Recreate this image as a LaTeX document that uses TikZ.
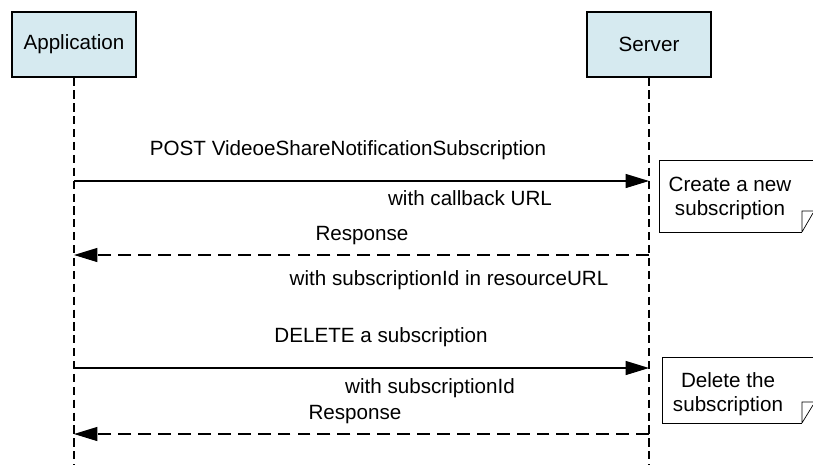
\documentclass[tikz,border=0pt]{standalone}
\usepackage{fontspec}
\setmainfont{Liberation Sans}
\usetikzlibrary{arrows.meta,positioning}
\definecolor{boxblue}{RGB}{214,234,240}

\tikzset{
	actor/.style={draw, fill=boxblue, line width=0.9pt, minimum width=3.72cm, minimum height=1.95cm},
	lifeline/.style={line width=1.4pt, dash pattern=on 7pt off 4pt},
	call/.style={line width=1pt, -{Triangle[length=20pt, width=12pt]}},
	reply/.style={line width=1pt, dash pattern=on 11pt off 6pt, -{Triangle[length=20pt, width=12pt]}},
	note/.style={line width=0.6pt},
	txt/.style={inner sep=0pt, align=center}
}

\begin{document}
\begin{tikzpicture}[x=0.03cm, y=-0.03cm, font=\fontsize{17.6pt}{20.5pt}\selectfont]
	\useasboundingbox (0,0) rectangle (813,465);

	%actors
	\node[actor] (app) at (74,44.5) {Application};
	\node[actor] (srv) at (649,44.5) {Server};

	%lifelines
	\coordinate (append) at (74,465);
	\coordinate (srvend) at (649,465);
	\draw[lifeline] (app.south) -- (append);
	\draw[lifeline] (srv.south) -- (srvend);

	%messages
	\coordinate (a1) at (74,181); \coordinate (s1) at (649,181);
	\coordinate (a2) at (74,255); \coordinate (s2) at (649,255);
	\coordinate (a3) at (74,368); \coordinate (s3) at (649,368);
	\coordinate (a4) at (74,434); \coordinate (s4) at (649,434);
	\draw[call] (a1) -- (s1);
	\draw[reply] (s2) -- (a2);
	\draw[call] (a3) -- (s3);
	\draw[reply] (s4) -- (a4);

	%labels
	\node[txt] (post) at (348,150) {POST VideoeShareNotificationSubscription};
	\node[txt] (cb) at (470,198) {with callback URL};
	\node[txt] (resp1) at (362,236) {Response};
	\node[txt] (rurl) at (449,280) {with subscriptionId in resourceURL};
	\node[txt] (del) at (381,337) {DELETE a subscription};
	\node[txt] (sid) at (430,388) {with subscriptionId};
	\node[txt] (resp2) at (355,415) {Response};

	%notes
	\draw[note] (802,232) -- (659,232) -- (659,160) -- (813,160);
	\draw[note] (802,232) -- (802,211) -- (813,211) (802,232) -- (813,213);
	\node[txt] (create) at (730,198) {Create a new\\subscription};
	\draw[note] (802,423) -- (662,423) -- (662,357) -- (813,357);
	\draw[note] (802,423) -- (802,402) -- (813,402) (802,423) -- (813,405);
	\node[txt] (delete) at (728,394) {Delete the\\subscription};
\end{tikzpicture}
\end{document}
